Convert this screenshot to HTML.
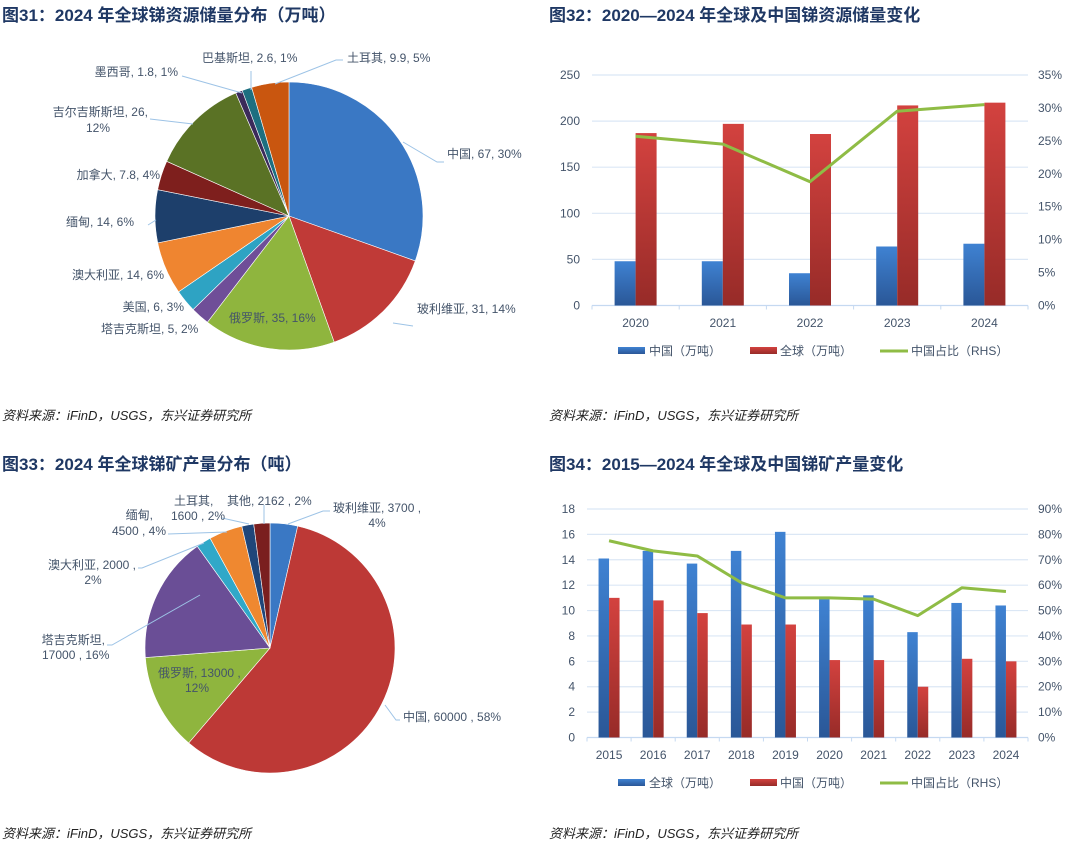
<!DOCTYPE html>
<html><head><meta charset="utf-8"><style>
html,body{margin:0;padding:0;background:#fff;}
svg{display:block;font-family:"Liberation Sans","Noto Sans CJK SC",sans-serif;}
.t{font-size:17px;font-weight:bold;fill:#1f3864;}
.src{font-size:13px;font-style:italic;fill:#222;}
.lb{font-size:12px;fill:#44546a;}
.ax{font-size:12px;fill:#44546a;}
</style></head><body>
<svg id="s" width="1080" height="853" viewBox="0 0 1080 853">
<defs>
<linearGradient id="gb" x1="0" y1="0" x2="0" y2="1"><stop offset="0" stop-color="#3f82d2"/><stop offset="1" stop-color="#2a5797"/></linearGradient>
<linearGradient id="gr" x1="0" y1="0" x2="0" y2="1"><stop offset="0" stop-color="#d3423f"/><stop offset="1" stop-color="#972b28"/></linearGradient>
</defs>
<text class="t" x="2" y="21">图31：2024 年全球锑资源储量分布（万吨）</text>
<text class="t" x="549" y="21">图32：2020—2024 年全球及中国锑资源储量变化</text>
<text class="t" x="2" y="470">图33：2024 年全球锑矿产量分布（吨）</text>
<text class="t" x="549" y="470">图34：2015—2024 年全球及中国锑矿产量变化</text>
<text class="src" x="2" y="420">资料来源：iFinD，USGS，东兴证券研究所</text>
<text class="src" x="549" y="420">资料来源：iFinD，USGS，东兴证券研究所</text>
<text class="src" x="2" y="838">资料来源：iFinD，USGS，东兴证券研究所</text>
<text class="src" x="549" y="838">资料来源：iFinD，USGS，东兴证券研究所</text>
<g id="p1"></g><g id="p3"></g><g id="c2"></g><g id="c4"></g>
</svg>
<script>
// ---- Fig31 pie data ----
const pie1Names = ["中国","玻利维亚","俄罗斯","塔吉克斯坦","美国","澳大利亚","缅甸","加拿大","吉尔吉斯斯坦","墨西哥","巴基斯坦","土耳其"];
const pie1Values = [67,31,35,5,6,14,14,7.8,26,1.8,2.6,9.9];
const pie1Colors = ["#3a78c4","#c03a37","#8fb53e","#6f4e98","#2ea3c3","#ef8530","#1d3f6b","#7e1f1d","#5a7225","#3b2a5a","#1d6f80","#c9560f"];
// ---- Fig33 pie data ----
const pie3Names = ["玻利维亚","中国","俄罗斯","塔吉克斯坦","澳大利亚","缅甸","土耳其","其他"];
const pie3Values = [3700,60000,13000,17000,2000,4500,1600,2162];
const pie3Colors = ["#3a78c4","#bd3936","#8fb53e","#6a4e96","#30a8c8","#ef8830","#1f467a","#7a1f1f"];
// ---- Fig32 data ----
const c2Years = ["2020","2021","2022","2023","2024"];
const c2China = [48,48,35,64,67];
const c2Global = [187,197,186,217,220];
const c2Share = [25.7,24.5,18.8,29.5,30.5];
const c2LeftTicks = [0,50,100,150,200,250];
const c2RightTicks = [0,5,10,15,20,25,30,35];
// ---- Fig34 data ----
const c4Years = ["2015","2016","2017","2018","2019","2020","2021","2022","2023","2024"];
const c4Global = [14.1,14.7,13.7,14.7,16.2,10.9,11.2,8.3,10.6,10.4];
const c4China = [11,10.8,9.8,8.9,8.9,6.1,6.1,4.0,6.2,6.0];
const c4Share = [77.5,73.5,71.5,61,55,55,54.5,48,59,57.5];
const c4LeftTicks = [0,2,4,6,8,10,12,14,16,18];
const c4RightTicks = [0,10,20,30,40,50,60,70,80,90];

const NS="http://www.w3.org/2000/svg";
function mk(parent,tag,attrs){const e=document.createElementNS(NS,tag);for(const k in attrs)e.setAttribute(k,attrs[k]);parent.appendChild(e);return e;}
function txt(parent,x,y,s,cls,anchor){const e=mk(parent,"text",{x:x,y:y,class:cls,"text-anchor":anchor||"start"});e.textContent=s;return e;}

function drawPie(g,names,values,colors,cx,cy,r,prefix){
  const total=values.reduce((a,b)=>a+b,0);let a0=0;
  values.forEach((v,i)=>{
    const a1=a0+v/total*2*Math.PI;
    const x0=cx+r*Math.sin(a0),y0=cy-r*Math.cos(a0),x1=cx+r*Math.sin(a1),y1=cy-r*Math.cos(a1);
    const big=(a1-a0)>Math.PI?1:0;
    const p=mk(g,"path",{d:`M${cx},${cy}L${x0},${y0}A${r},${r} 0 ${big} 1 ${x1},${y1}Z`,fill:colors[i],stroke:"#fff","stroke-width":0.6});
    
    
    a0=a1;
  });
}
function leader(g,pts){mk(g,"polyline",{points:pts,fill:"none",stroke:"#9dc3e6","stroke-width":1});}

const p1=document.getElementById("p1");


drawPie(p1,pie1Names,pie1Values,pie1Colors,289,216,134,"fig31");
leader(p1,"403,142 437,162 444,162");
leader(p1,"393,323 413,326");
leader(p1,"148,225 156,220");
leader(p1,"182,76 242,93");
leader(p1,"150,119 193,124");
leader(p1,"251,71 251,90");
leader(p1,"275,84 336,60 343,60");
const L1=[["中国, 67, 30%",447,158,"start"],["玻利维亚, 31, 14%",417,313,"start"],["俄罗斯, 35, 16%",229,322,"start"],["塔吉克斯坦, 5, 2%",101,333,"start"],["美国, 6, 3%",184,311,"end"],["澳大利亚, 14, 6%",164,279,"end"],["缅甸, 14, 6%",134,226,"end"],["加拿大, 7.8, 4%",160,179,"end"],["吉尔吉斯斯坦, 26,",148,116,"end"],["12%",98,132,"middle"],["墨西哥, 1.8, 1%",178,76,"end"],["巴基斯坦, 2.6, 1%",202,62,"start"],["土耳其, 9.9, 5%",347,62,"start"]];
L1.forEach(l=>{const t=txt(p1,l[1],l[2],l[0],"lb",l[3]);});

const p3=document.getElementById("p3");


drawPie(p3,pie3Names,pie3Values,pie3Colors,270,648,125,"fig33");
leader(p3,"288,524 323,511 330,511");
leader(p3,"385,705 396,720 400,720");
leader(p3,"200,595 112,645 107,645");
leader(p3,"204,543 142,568 138,568");
leader(p3,"227,532 168,534");
leader(p3,"249,524 222,518");
leader(p3,"264,524 264,505");
const L3=[["玻利维亚, 3700 ,",333,512,"start"],["4%",377,527,"middle"],["中国, 60000 , 58%",403,721,"start"],["俄罗斯, 13000 ,",158,677,"start"],["12%",197,692,"middle"],["塔吉克斯坦,",105,644,"end"],["17000 , 16%",42,659,"start"],["澳大利亚, 2000 ,",136,569,"end"],["2%",93,584,"middle"],["缅甸,",153,519,"end"],["4500 , 4%",166,535,"end"],["土耳其,",174,505,"start"],["1600 , 2%",171,520,"start"],["其他, 2162 , 2%",227,505,"start"]];
L3.forEach(l=>{const t=txt(p3,l[1],l[2],l[0],"lb",l[3]);});

function barChart(g,prefix,cfg){
  const {x0,x1,yTop,yBot,cats,s1,s2,share,lt,rt,c1,c2,legY,xLabY,bw,names}=cfg;
  const lmax=lt[lt.length-1],rmax=rt[rt.length-1];
  const yL=v=>yBot-(v/lmax)*(yBot-yTop), yR=v=>yBot-(v/rmax)*(yBot-yTop);
  const band=(x1-x0)/cats.length;
  lt.forEach(v=>{const y=yL(v);
    const ln=mk(g,"line",{x1:x0,x2:x1,y1:y,y2:y,stroke:v===0?"#c5d9f1":"#dbe7f5","stroke-width":1.2});
    
    const t=txt(g,x0-12,y+4,String(v),"ax","end");});
  rt.forEach(v=>{const t=txt(g,x1+10,yR(v)+4,v+"%","ax","start");});
  for(let i=0;i<=cats.length;i++){mk(g,"line",{x1:x0+i*band,x2:x0+i*band,y1:yBot,y2:yBot+4,stroke:"#c5d9f1"});}
  cats.forEach((c,i)=>{const cx=x0+band*(i+0.5);
    const b1=mk(g,"rect",{x:cx-bw,y:yL(s1[i]),width:bw,height:yBot-yL(s1[i]),fill:c1});
    
    const b2=mk(g,"rect",{x:cx,y:yL(s2[i]),width:bw,height:yBot-yL(s2[i]),fill:c2});
    
    const t=txt(g,cx,xLabY,c,"ax","middle");});
  const pts=share.map((v,i)=>(x0+band*(i+0.5))+","+yR(v)).join(" ");
  const pl=mk(g,"polyline",{points:pts,fill:"none",stroke:"#8fbc45","stroke-width":3,"stroke-linejoin":"round"});
  
  const lg=mk(g,"g",{});
  mk(lg,"rect",{x:618,y:legY-4,width:27,height:7,fill:c1});
  txt(lg,649,legY+4,cfg.legText[0],"ax");
  mk(lg,"rect",{x:750,y:legY-4,width:27,height:7,fill:c2});
  txt(lg,780,legY+4,cfg.legText[1],"ax");
  mk(lg,"line",{x1:880,x2:908,y1:legY,y2:legY,stroke:"#8fbc45","stroke-width":3});
  txt(lg,911,legY+4,"中国占比（RHS）","ax");
}
const c2g=document.getElementById("c2");


barChart(c2g,"fig32",{x0:592,x1:1028,yTop:75,yBot:305.5,cats:c2Years,s1:c2China,s2:c2Global,share:c2Share,lt:c2LeftTicks,rt:c2RightTicks,c1:"url(#gb)",c2:"url(#gr)",legY:351,xLabY:327,bw:21,names:["china","global"],legText:["中国（万吨）","全球（万吨）"]});
const c4g=document.getElementById("c4");


barChart(c4g,"fig34",{x0:587,x1:1028,yTop:509,yBot:737.5,cats:c4Years,s1:c4Global,s2:c4China,share:c4Share,lt:c4LeftTicks,rt:c4RightTicks,c1:"url(#gb)",c2:"url(#gr)",legY:783,xLabY:759,bw:10.5,names:["global","china"],legText:["全球（万吨）","中国（万吨）"]});
</script>
</body></html>
